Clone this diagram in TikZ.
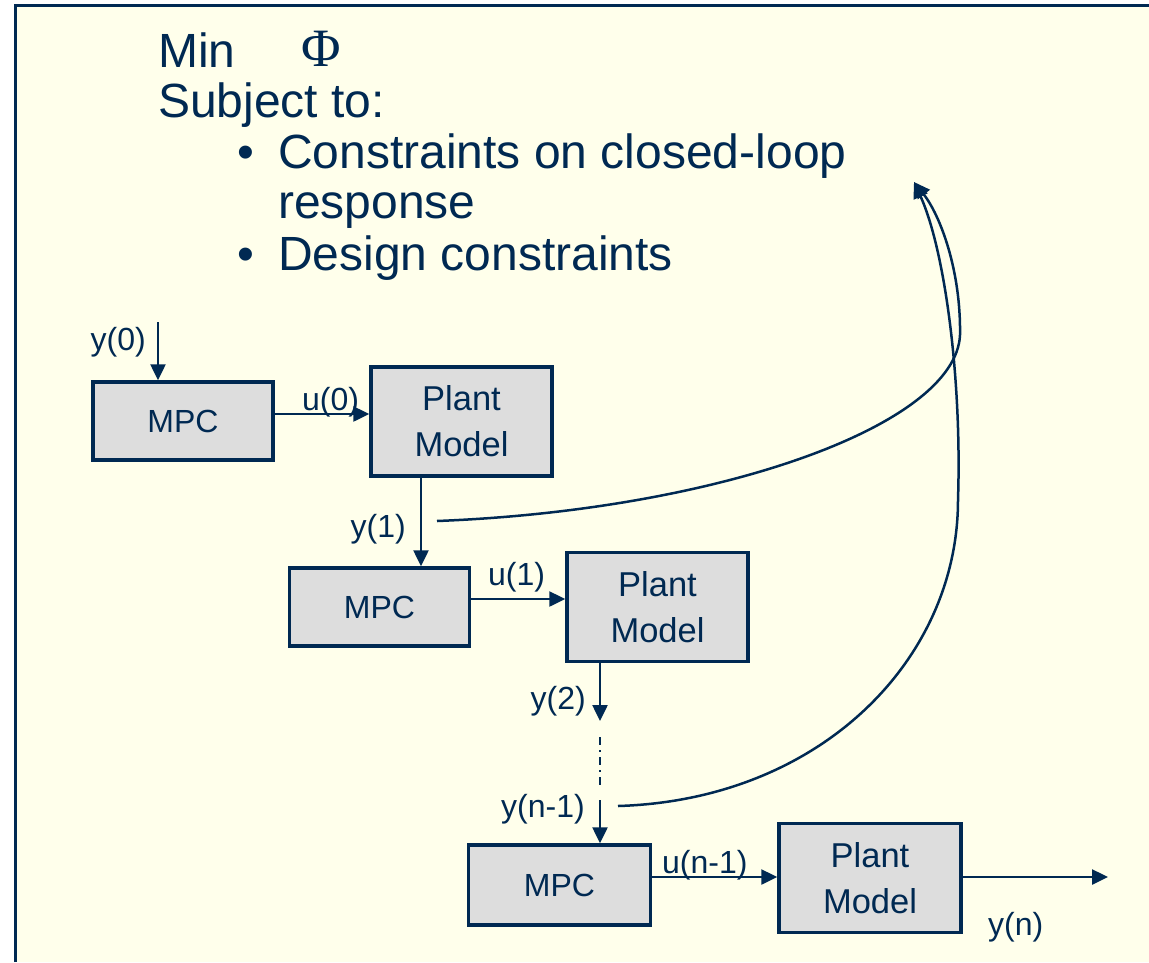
\documentclass[tikz,border=0pt]{standalone}
\usepackage{fontspec}
\setmainfont{Liberation Sans}
\newfontfamily\greekserif{Liberation Serif}
\usetikzlibrary{arrows.meta,calc}
\definecolor{navy}{HTML}{002952}
\definecolor{boxgray}{HTML}{DDDDDD}
\definecolor{paper}{HTML}{FFFFEB}

\begin{document}
\begin{tikzpicture}[x=1pt,y=-1pt,
  blk/.style={draw=navy, line width=3.5pt, fill=boxgray, text=navy, inner sep=0pt, align=center},
  mpcbox/.style={blk, minimum width=180pt, minimum height=78pt, font=\fontsize{32}{46}\selectfont},
  plantbox/.style={blk, minimum width=181pt, minimum height=109pt, font=\fontsize{34.5}{46}\selectfont},
  arr/.style={draw=navy, line width=2.5pt, -{Triangle[length=16pt,width=15pt]}},
  wire/.style={draw=navy, line width=2pt},
  lbl/.style={text=navy, inner sep=0pt, font=\fontsize{32}{36}\selectfont},
  head/.style={text=navy, inner sep=0pt, font=\fontsize{48}{50}\selectfont},
]
\useasboundingbox (0,0) rectangle (1149,962);

% page and frame
\fill[white] (0,0) rectangle (1149,962);
\fill[paper] (15,5) rectangle (1149,962);
\draw[navy, line width=3pt] (15,962) -- (15,5) -- (1149,5);

% optimisation statement
\node[head, anchor=base west] (tmin) at (158,67) {Min};
\node[head, anchor=base west, font=\greekserif\fontsize{54}{56}\selectfont] (tphi) at (301,66) {Φ};
\node[head, anchor=base west] (tsub) at (158,117) {Subject to:};
\node[head, anchor=base west] (bul1) at (237,168) {•};
\node[head, anchor=base west] (cons1) at (278,168) {Constraints on closed-loop};
\node[head, anchor=base west] (cons1b) at (278,218) {response};
\node[head, anchor=base west] (bul2) at (237,270) {•};
\node[head, anchor=base west] (cons2) at (278,270) {Design constraints};

% controller / plant stages
\node[mpcbox] (mpc1) at (183,421) {MPC};
\node[plantbox] (pm1) at (461.5,421.5) {Plant\\Model};
\node[mpcbox] (mpc2) at (379.5,607) {MPC};
\node[plantbox] (pm2) at (657.5,607) {Plant\\Model};
\node[mpcbox, minimum width=182pt, minimum height=80pt] (mpc3) at (559.5,885) {MPC};
\node[plantbox, minimum width=182pt] (pm3) at (870,878) {Plant\\Model};

% helper coordinates
\coordinate (y0top) at (158,322);
\coordinate (u0y) at (0,414);
\coordinate (x1) at (421,0);
\coordinate (u1y) at (0,599);
\coordinate (y2end) at (600,721);
\coordinate (dotA) at (600,737);
\coordinate (dotB) at (600,786);
\coordinate (yn1top) at (600,800);
\coordinate (uny) at (0,877);
\coordinate (yout) at (1108,877);

% signal flow
\draw[arr] (y0top) -- (y0top |- mpc1.north);
\draw[arr] (mpc1.east |- u0y) -- (pm1.west |- u0y);
\draw[arr] (pm1.south -| x1) -- (mpc2.north -| x1);
\draw[arr] (mpc2.east |- u1y) -- (pm2.west |- u1y);
\draw[arr] (pm2.south -| y2end) -- (y2end);
\draw[wire, dash pattern=on 8pt off 5pt on 2pt off 5pt] (dotA) -- (dotB);
\draw[arr] (yn1top) -- (yn1top |- mpc3.north);
\draw[arr] (mpc3.east |- uny) -- (pm3.west |- uny);
\draw[arr] (pm3.east |- yout) -- (yout);

% signal labels
\node[lbl, anchor=base east] (ly0) at (146,350) {y(0)};
\node[lbl, anchor=base west] (lu0) at (302,410) {u(0)};
\node[lbl, anchor=base east] (ly1) at (406,537) {y(1)};
\node[lbl, anchor=base west] (lu1) at (488,585) {u(1)};
\node[lbl, anchor=base east] (ly2) at (586,709) {y(2)};
\node[lbl, anchor=base east] (lyn1) at (585,817) {y(n-1)};
\node[lbl, anchor=base west] (lun1) at (662,873) {u(n-1)};
\node[lbl, anchor=base west] (lyn) at (988,935) {y(n)};

% outputs fed back to the constraint set
\coordinate (goal) at (914,182);
\coordinate (fa) at (437,521);
\coordinate (fb) at (618,806);
\coordinate (ka) at (960,335);
\coordinate (kb) at (958,500);
\draw[arr] (fa) .. controls (720,510) and (956,425) .. (ka)
                .. controls (961,270) and (940,215) .. (goal);
\draw[arr] (fb) .. controls (820,800) and (958,660) .. (kb)
                .. controls (962,380) and (945,250) .. (goal);
\end{tikzpicture}
\end{document}
